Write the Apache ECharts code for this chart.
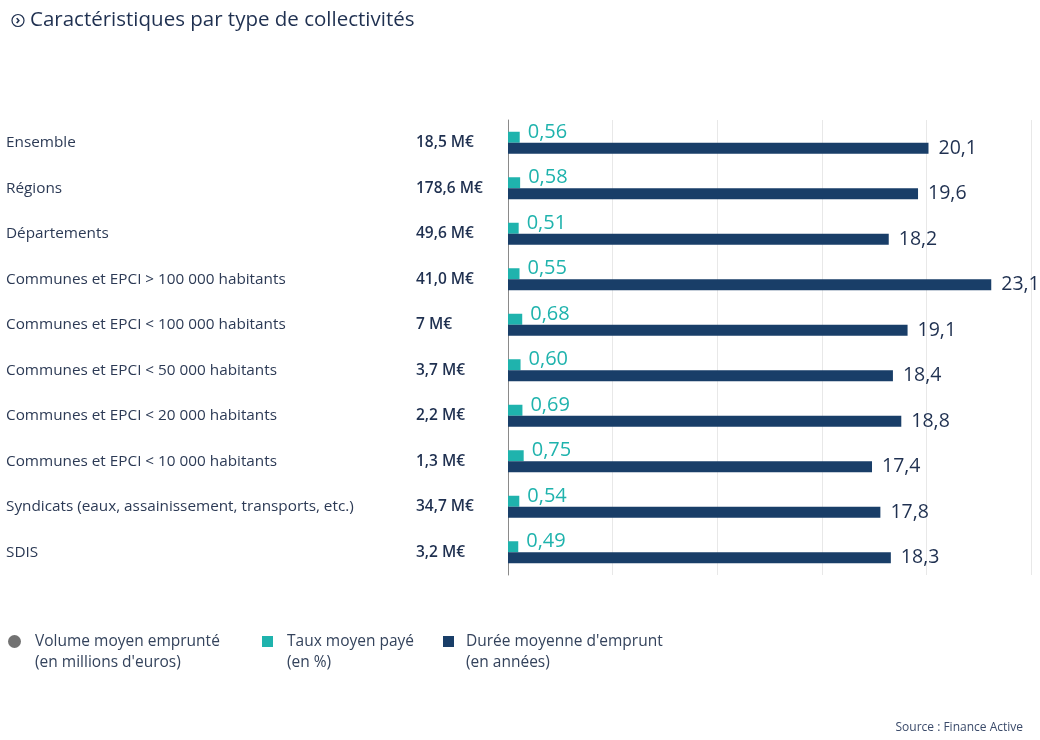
<!DOCTYPE html>
<html>
<head>
<meta charset="utf-8">
<script src="https://cdn.jsdelivr.net/npm/echarts@6/dist/echarts.min.js"></script>
<style>
  html, body { margin: 0; padding: 0; background: #fff; }
  #chart { width: 1040px; height: 740px; }
</style>
</head>
<body>
<div id="chart"></div>
<script>
// categories (top to bottom)
var categories = [
    'Ensemble',
    'Régions',
    'Départements',
    'Communes et EPCI > 100 000 habitants',
    'Communes et EPCI < 100 000 habitants',
    'Communes et EPCI < 50 000 habitants',
    'Communes et EPCI < 20 000 habitants',
    'Communes et EPCI < 10 000 habitants',
    'Syndicats (eaux, assainissement, transports, etc.)',
    'SDIS'
];
// volume moyen emprunté (M€)
var volumes = ['18,5 M€', '178,6 M€', '49,6 M€', '41,0 M€', '7 M€', '3,7 M€', '2,2 M€', '1,3 M€', '34,7 M€', '3,2 M€'];
// taux moyen payé (%)
var rates = [0.56, 0.58, 0.51, 0.55, 0.68, 0.60, 0.69, 0.75, 0.54, 0.49];
// durée moyenne d'emprunt (années)
var durations = [20.1, 19.6, 18.2, 23.1, 19.1, 18.4, 18.8, 17.4, 17.8, 18.3];

var FONT = '"Open Sans", sans-serif';
var TEAL = '#1fb3ad';
var NAVY = '#193e68';
var TEXT = '#1f3050';

var volName = 'Volume moyen emprunté\n(en millions d\'euros)';
var rateName = 'Taux moyen payé\n(en %)';
var durName = 'Durée moyenne d\'emprunt\n(en années)';

function comma(v, d) {
    return v.toFixed(d).replace('.', ',');
}

// one legend per item so each sits where the original puts it;
// a leading blank line keeps the icon level with the first text line
function legendAt(name, left, icon, size, gapLeft) {
    return {
        data: [{name: name, icon: icon}],
        left: left,
        top: 610,
        padding: 0,
        itemWidth: size,
        itemHeight: size,
        itemGap: 0,
        selectedMode: false,
        formatter: function (n) { return '\n' + n; },
        textStyle: {
            fontFamily: FONT,
            fontSize: 15.5,
            color: '#34435c',
            lineHeight: 21,
            padding: [0, 0, 0, gapLeft]
        }
    };
}

var chart = echarts.init(document.getElementById('chart'));
chart.setOption({
    backgroundColor: '#fff',
    animation: false,
    title: [{
        text: '{i|›}{t|Caractéristiques par type de collectivités}',
        left: 7,
        top: 5,
        textStyle: {
            rich: {
                i: {
                    fontFamily: FONT, fontSize: 13, color: TEXT,
                    width: 12, height: 12, lineHeight: 12, align: 'center',
                    borderColor: TEXT, borderWidth: 1.2, borderRadius: 7
                },
                t: {
                    fontFamily: FONT, fontSize: 20.5, fontWeight: 'normal', color: TEXT, padding: [0, 0, 0, 6]
                }
            }
        }
    }, {
        text: 'Source : Finance Active',
        right: 12,
        top: 717,
        textStyle: {fontFamily: FONT, fontSize: 12, fontWeight: 'normal', color: '#3a4a6a'}
    }],
    legend: [
        legendAt(volName, 8, 'circle', 13, 9),
        legendAt(rateName, 262, 'rect', 11, 9),
        legendAt(durName, 443, 'rect', 11, 7)
    ],
    grid: {left: 508, right: 9, top: 120, bottom: 165},
    xAxis: {
        type: 'value',
        min: 0,
        max: 25,
        interval: 5,
        axisLine: {show: false},
        axisTick: {show: false},
        axisLabel: {show: false},
        splitLine: {lineStyle: {color: '#e8e8e8', width: 1}}
    },
    yAxis: {
        type: 'category',
        inverse: true,
        data: categories,
        axisLine: {lineStyle: {color: '#8a8a8a', width: 1}},
        axisTick: {length: 4, lineStyle: {color: '#8a8a8a'}},
        axisLabel: {
            margin: 502,
            align: 'left',
            formatter: function (value, idx) {
                return '{n|' + value + '}{v|' + volumes[idx] + '}';
            },
            rich: {
                n: {fontFamily: FONT, fontSize: 15.3, color: '#2c3a55', width: 410},
                v: {fontFamily: FONT, fontSize: 15.5, fontWeight: 600, color: TEXT}
            }
        }
    },
    series: [{
        name: volName,
        type: 'scatter',
        itemStyle: {color: '#4f4f4f'},
        data: []
    }, {
        name: rateName,
        type: 'bar',
        barWidth: 11,
        barGap: '0%',
        itemStyle: {color: TEAL},
        label: {
            show: true,
            position: 'right',
            distance: 8,
            offset: [0, -5],
            fontFamily: FONT,
            fontSize: 20,
            color: TEAL,
            formatter: function (p) { return comma(p.value, 2); }
        },
        data: rates
    }, {
        name: durName,
        type: 'bar',
        barWidth: 11,
        barGap: '0%',
        itemStyle: {color: NAVY},
        label: {
            show: true,
            position: 'right',
            distance: 10,
            fontFamily: FONT,
            fontSize: 19.5,
            color: TEXT,
            formatter: function (p) { return comma(p.value, 1); }
        },
        data: durations
    }]
});
</script>
</body>
</html>
